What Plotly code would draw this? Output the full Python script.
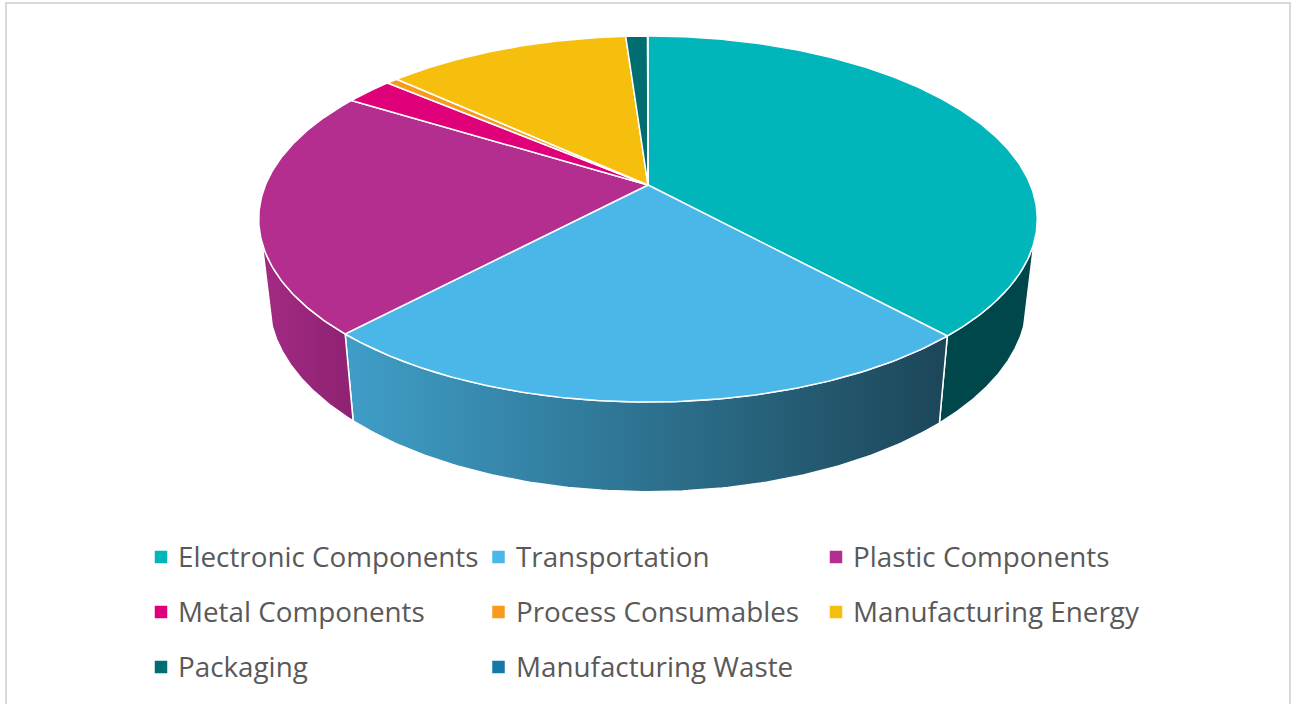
import numpy as np
import plotly.graph_objects as go

categories = ["Electronic Components", "Transportation", "Plastic Components", "Metal Components",
              "Process Consumables", "Manufacturing Energy", "Packaging", "Manufacturing Waste"]
values = [38.2, 23.8, 21.8, 2.4, 0.56, 12.14, 1.08, 0.02]
top_colors = ["#00B6BA", "#4AB7E8", "#B32E8E", "#E0007A", "#F79A1E", "#F6BF0E", "#006E70", "#1478A8"]
wall_gradients = {
    0: ["#00474C", "#00474C"],
    1: ["#3F9EC8", "#1C4658"],
    2: ["#A32A83", "#8E2272"],
}

# Perspective view of the round pie (page pixels)
CX, CY, A, B, K = 648.0, 185.0, 382.5, 176.7, 0.1857
SX, SY, DROP = 0.9736, 1.04, 81.0
WALL_START, WALL_END = 108.0, 252.0


def top(deg):
    t = np.radians(deg)
    X, Y = np.sin(t), np.cos(t)
    w = 1 + K * Y
    return CX + A * X / w, CY - B * Y / w


def bottom(deg):
    x, y = top(deg)
    return CX + SX * (x - CX), CY + DROP + SY * (y - CY)


edges = np.concatenate([[0], np.cumsum(values)]) * 3.6
fig = go.Figure()

# Side walls
for i, c in wall_gradients.items():
    a0, a1 = max(edges[i], WALL_START), min(edges[i + 1], WALL_END)
    ts = np.linspace(a0, a1, 120)
    xt, yt = top(ts)
    xb, yb = bottom(ts[::-1])
    left, right = (c[0], c[1])
    fig.add_trace(go.Scatter(
        x=np.concatenate([xt, xb, xt[:1]]), y=np.concatenate([yt, yb, yt[:1]]),
        mode="lines", fill="toself", line=dict(color="#FFFFFF", width=1.5),
        fillgradient=dict(type="horizontal", colorscale=[[0, left], [1, right]]),
        hoverinfo="skip", showlegend=False))

# Top faces
for i in range(len(values)):
    ts = np.linspace(edges[i], edges[i + 1], max(3, int(values[i] * 6)))
    x, y = top(ts)
    fig.add_trace(go.Scatter(
        x=np.concatenate([[CX], x, [CX]]), y=np.concatenate([[CY], y, [CY]]),
        mode="lines", fill="toself", fillcolor=top_colors[i],
        line=dict(color="#FFFFFF", width=1.5), name=categories[i],
        hoverinfo="name", showlegend=False))

# Legend laid out in three columns
LEG_X = [161, 498.5, 836]
LEG_Y = [557, 612, 667]
for i, name in enumerate(categories):
    lx, ly = LEG_X[i % 3], LEG_Y[i // 3]
    fig.add_trace(go.Scatter(x=[lx], y=[ly], mode="markers",
                             marker=dict(symbol="square", size=12.5, color=top_colors[i]),
                             hoverinfo="skip", showlegend=False))
    fig.add_annotation(x=lx + 15, y=ly - 1, text=name, showarrow=False, xanchor="left", yanchor="middle",
                       font=dict(family="Open Sans", size=27.8, color="#595959"))

fig.add_shape(type="rect", x0=6, y0=3, x1=1290, y1=760, line=dict(color="#D9D9D9", width=2),
              fillcolor="rgba(0,0,0,0)", layer="below")

fig.update_xaxes(range=[0, 1296], visible=False, fixedrange=True)
fig.update_yaxes(range=[704, 0], visible=False, fixedrange=True)
fig.update_layout(width=1296, height=704, margin=dict(l=0, r=0, t=0, b=0),
                  paper_bgcolor="#FFFFFF", plot_bgcolor="#FFFFFF", showlegend=False)
fig.write_html("out.html", config={"displayModeBar": False},
               post_script="document.body.style.margin='0';document.body.style.overflow='hidden';")
